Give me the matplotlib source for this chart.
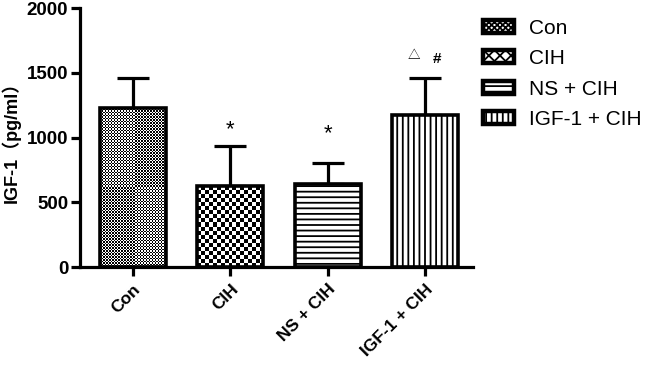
import matplotlib.pyplot as plt
import numpy as np
from matplotlib.patches import Patch

plt.rcParams["font.family"] = ["Liberation Sans", "Noto Sans CJK SC"]
plt.rcParams["hatch.linewidth"] = 1.3

groups = ["Con", "CIH", "NS + CIH", "IGF-1 + CIH"]
means = [1228, 625, 641, 1174]
errs = [231, 309, 162, 285]
# significance marks: (text, x offset, y)
marks = [[], [("*", 0.0, 1060)], [("*", 0.0, 1030)], [("△", -0.12, 1630), ("#", 0.12, 1610)]]

# fill styles: checker cell size in pixels, or a hatch
checker = [1.5, 4.0, None, None]
hatches = ["xxxxx", "xx", "---", "|||"]
legend_hatches = ["xxxxxx", "xxx", "---", "|||"]

fig = plt.figure(figsize=(6.45, 3.70), dpi=100)
ax = fig.add_axes([0.124, 0.278, 0.609, 0.700])
x = np.arange(len(groups))
ax.set_xlim(-0.545, 3.49)
ax.set_ylim(0, 2000)

ax.errorbar(x, means, yerr=[np.zeros(len(errs)), errs], fmt="none", ecolor="black",
            elinewidth=2.3, capsize=11.5, capthick=2.3, zorder=1)

bars = ax.bar(x, means, width=0.68, color="white", edgecolor="black", linewidth=2.6, zorder=2)
for i, b in enumerate(bars):
    if checker[i] is None:
        b.set_hatch(hatches[i])
        continue
    # checkerboard texture clipped to the bar
    x0, y0 = b.get_x(), b.get_y()
    w, h = b.get_width(), b.get_height()
    p0 = ax.transData.transform((x0, y0))
    p1 = ax.transData.transform((x0 + w, y0 + h))
    nx = max(1, int(round((p1[0] - p0[0]) / checker[i])))
    ny = max(1, int(round((p1[1] - p0[1]) / checker[i])))
    arr = (np.add.outer(np.arange(ny), np.arange(nx)) % 2).astype(float)
    im = ax.imshow(arr, extent=(x0, x0 + w, y0, y0 + h), origin="lower", cmap="gray",
                   interpolation="nearest", aspect="auto", zorder=1.5)
    im.set_clip_path(b)
    b.set_facecolor("none")
ax.set_xlim(-0.545, 3.49)
ax.set_ylim(0, 2000)

for i, ms in enumerate(marks):
    for t, dx, yy in ms:
        fs = 9 if t == "△" else (11 if t == "#" else 16)
        ax.text(x[i] + dx, yy, t, ha="center", va="center", fontsize=fs,
                fontweight="bold" if t == "#" else "normal")

for s in ["top", "right"]:
    ax.spines[s].set_visible(False)
for s in ["left", "bottom"]:
    ax.spines[s].set_linewidth(2.3)

ax.set_yticks([0, 500, 1000, 1500, 2000])
ax.tick_params(axis="both", direction="out", length=6.5, width=2.3, pad=2)
for lbl in ax.get_yticklabels():
    lbl.set_fontweight("bold")
    lbl.set_fontsize(13.5)
ax.set_xticks(x)
ax.set_xticklabels(groups, rotation=45, ha="right", va="top", rotation_mode="anchor",
                   fontsize=12.5, fontweight="bold")
ax.tick_params(axis="x", pad=4)
ax.set_ylabel("IGF-1（pg/ml）", fontsize=13, fontweight="bold", labelpad=4)

handles = [Patch(facecolor="white", edgecolor="black", linewidth=3.2, hatch=h) for h in legend_hatches]
fig.legend(handles, groups, loc="upper left", bbox_to_anchor=(0.72, 1.0), frameon=False,
           fontsize=15, handlelength=1.5, handleheight=0.6, labelspacing=0.55, handletextpad=0.7)

fig.savefig("out.png", dpi=100)
